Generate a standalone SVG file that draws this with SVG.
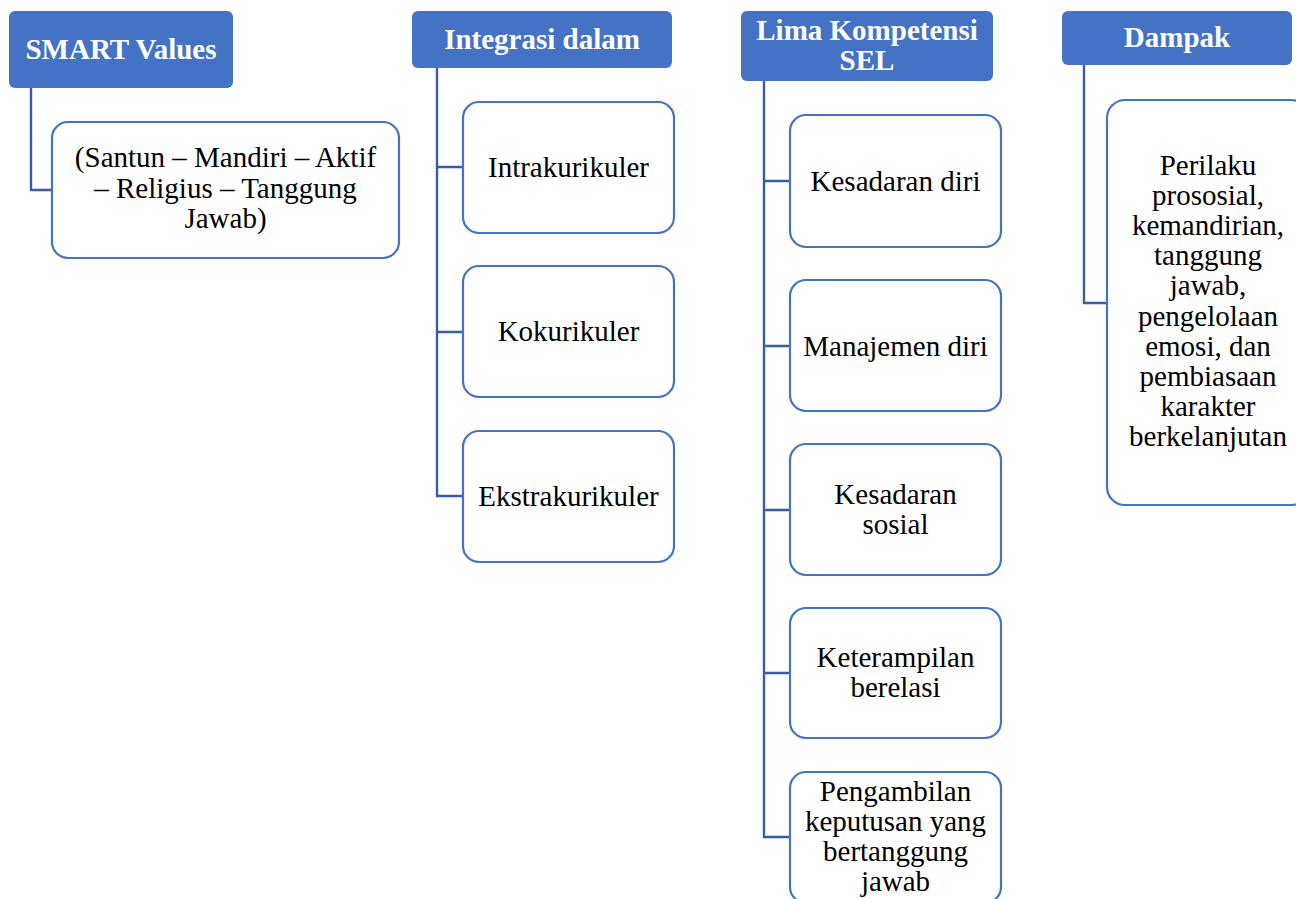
<svg xmlns="http://www.w3.org/2000/svg" width="1296" height="899" viewBox="0 0 1296 899">
<style>
.hdr{fill:#4472C4;}
.box{fill:#FFFFFF;stroke:#4472C4;stroke-width:2.2;}
.ht{font-family:"Liberation Serif","Times New Roman",serif;font-weight:bold;font-size:29px;fill:#FFFFFF;text-anchor:middle;}
.bt{font-family:"Liberation Serif","Times New Roman",serif;font-size:29px;fill:#000000;text-anchor:middle;}
.con{fill:none;stroke:#3A5CA6;stroke-width:2.4;}
</style>
<rect width="1296" height="899" fill="#FFFFFF"/>
<g id="connectors">
<path class="con" d="M31,88 V190 H52"/>
<path class="con" d="M437,68 V496 H463 M437,167 H463 M437,332 H463"/>
<path class="con" d="M764,81 V837 H790 M764,181 H790 M764,346 H790 M764,510 H790 M764,673 H790"/>
<path class="con" d="M1084,65 V303 H1107"/>
</g>
<g id="smart">
<rect class="hdr" x="9" y="11" width="224" height="77" rx="6"/>
<text class="ht" x="121" y="59">SMART Values</text>
</g>
<g id="smart-values">
<rect class="box" x="52" y="122" width="347" height="136" rx="16"/>
<text class="bt" x="225.5" y="167">(Santun – Mandiri – Aktif</text>
<text class="bt" x="225.5" y="197.5">– Religius – Tanggung</text>
<text class="bt" x="225.5" y="228">Jawab)</text>
</g>
<g id="integrasi">
<rect class="hdr" x="412" y="11" width="260" height="57" rx="6"/>
<text class="ht" x="542" y="48.5">Integrasi dalam</text>
</g>
<g id="intrakurikuler">
<rect class="box" x="463" y="102" width="211" height="131" rx="16"/>
<text class="bt" x="568.5" y="177">Intrakurikuler</text>
</g>
<g id="kokurikuler">
<rect class="box" x="463" y="266" width="211" height="131" rx="16"/>
<text class="bt" x="568.5" y="341">Kokurikuler</text>
</g>
<g id="ekstrakurikuler">
<rect class="box" x="463" y="431" width="211" height="131" rx="16"/>
<text class="bt" x="568.5" y="506">Ekstrakurikuler</text>
</g>
<g id="lima">
<rect class="hdr" x="741" y="11" width="252" height="70" rx="6"/>
<text class="ht" x="867" y="39.5">Lima Kompetensi</text>
<text class="ht" x="867" y="70">SEL</text>
</g>
<g id="kesadaran-diri">
<rect class="box" x="790" y="115" width="211" height="132" rx="16"/>
<text class="bt" x="895.5" y="191">Kesadaran diri</text>
</g>
<g id="manajemen-diri">
<rect class="box" x="790" y="280" width="211" height="131" rx="16"/>
<text class="bt" x="895.5" y="355.5">Manajemen diri</text>
</g>
<g id="kesadaran-sosial">
<rect class="box" x="790" y="444" width="211" height="131" rx="16"/>
<text class="bt" x="895.5" y="504">Kesadaran</text>
<text class="bt" x="895.5" y="534">sosial</text>
</g>
<g id="keterampilan">
<rect class="box" x="790" y="608" width="211" height="130" rx="16"/>
<text class="bt" x="895.5" y="667">Keterampilan</text>
<text class="bt" x="895.5" y="697">berelasi</text>
</g>
<g id="pengambilan">
<rect class="box" x="790" y="772" width="211" height="131" rx="16"/>
<text class="bt" x="895.5" y="801">Pengambilan</text>
<text class="bt" x="895.5" y="831">keputusan yang</text>
<text class="bt" x="895.5" y="861">bertanggung</text>
<text class="bt" x="895.5" y="891">jawab</text>
</g>
<g id="dampak">
<rect class="hdr" x="1062" y="11" width="230" height="54" rx="6"/>
<text class="ht" x="1177" y="47">Dampak</text>
</g>
<g id="dampak-isi">
<rect class="box" x="1107" y="100" width="202" height="405" rx="18"/>
<text class="bt" x="1208" y="175">Perilaku</text>
<text class="bt" x="1208" y="205">prososial,</text>
<text class="bt" x="1208" y="235">kemandirian,</text>
<text class="bt" x="1208" y="265">tanggung</text>
<text class="bt" x="1208" y="295">jawab,</text>
<text class="bt" x="1208" y="326">pengelolaan</text>
<text class="bt" x="1208" y="356">emosi, dan</text>
<text class="bt" x="1208" y="386">pembiasaan</text>
<text class="bt" x="1208" y="416">karakter</text>
<text class="bt" x="1208" y="446">berkelanjutan</text>
</g>
</svg>
